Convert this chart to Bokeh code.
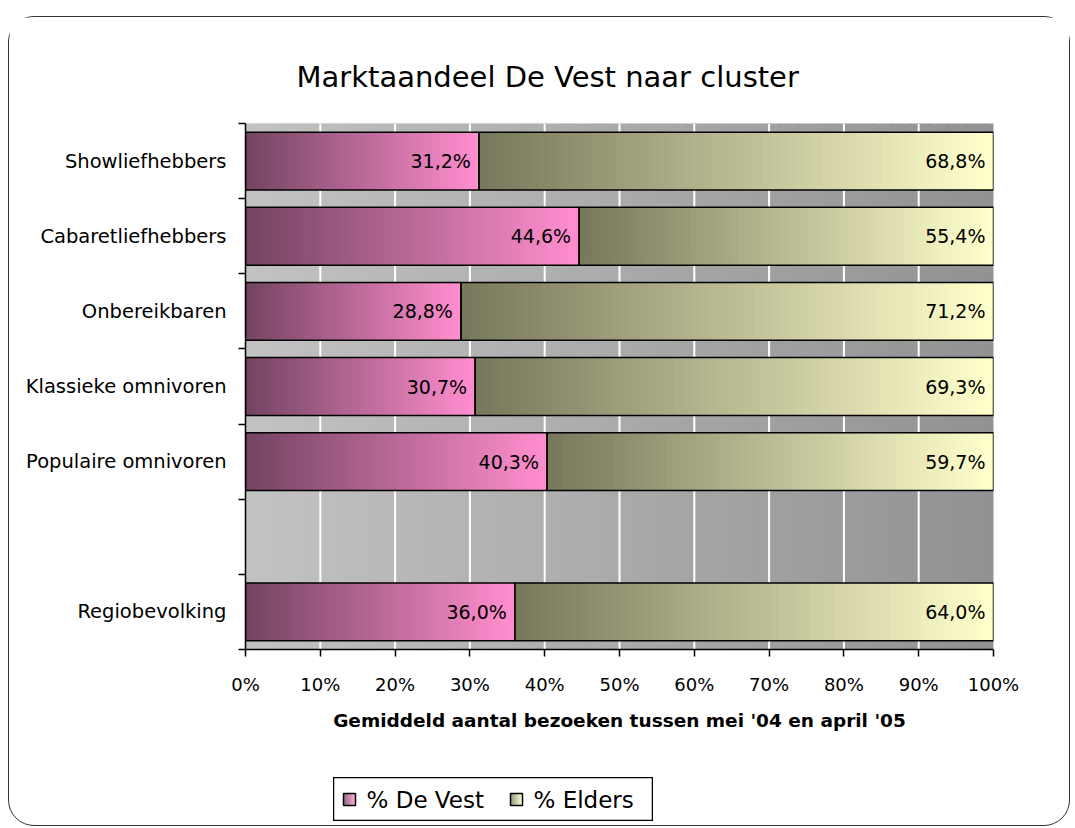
from bokeh.plotting import figure
from bokeh.layouts import column, row
from bokeh.models import Range1d, FixedTicker, Spacer
from bokeh.core.properties import value
from bokeh.embed import file_html
from bokeh.resources import INLINE

# ---- data ----
categories = ["Showliefhebbers", "Cabaretliefhebbers", "Onbereikbaren",
              "Klassieke omnivoren", "Populaire omnivoren", "", "Regiobevolking"]
de_vest = [31.2, 44.6, 28.8, 30.7, 40.3, None, 36.0]
elders = [68.8, 55.4, 71.2, 69.3, 59.7, None, 64.0]
x_ticks = [0, 10, 20, 30, 40, 50, 60, 70, 80, 90, 100]
x_tick_labels = ["0%", "10%", "20%", "30%", "40%", "50%", "60%", "70%", "80%", "90%", "100%"]
series_names = ["% De Vest", "% Elders"]
title_text = "Marktaandeel De Vest naar cluster"
x_title = "Gemiddeld aantal bezoeken tussen mei '04 en april '05"

FONT = "DejaVu Sans"
N = len(categories)
ypos = [N - 1 - i for i in range(N)]  # top to bottom

PINK = ((0x74, 0x44, 0x62), (0xFF, 0x8E, 0xCE))
OLIVE = ((0x78, 0x78, 0x5C), (0xFF, 0xFF, 0xCC))
BG = ((0xC2, 0xC2, 0xC2), (0x92, 0x92, 0x92))


def lerp(c, t):
    a, b = c
    return "#%02x%02x%02x" % tuple(int(round(a[k] + (b[k] - a[k]) * t)) for k in range(3))


def gradient_slices(x0, x1, y, cols, steps=60):
    lefts, rights, ys, colors = [], [], [], []
    for s in range(steps):
        lefts.append(x0 + (x1 - x0) * s / steps)
        rights.append(min(x1, x0 + (x1 - x0) * (s + 1) / steps + (x1 - x0) * 0.004))
        ys.append(y)
        colors.append(lerp(cols, s / (steps - 1)))
    return lefts, rights, ys, colors


p = figure(width=1060, height=745, output_backend="svg", toolbar_location=None,
           x_range=Range1d(0, 100), y_range=Range1d(-0.5, N - 0.5),
           min_border_left=236, min_border_right=76, min_border_top=106,
           min_border_bottom=113, outline_line_color=None,
           background_fill_color="#c0c0c0", border_fill_color="white")

# background gradient
bl, br, _, bc = gradient_slices(0, 100, 0, BG, steps=80)
p.quad(left=bl, right=br, bottom=[-0.5] * len(bl), top=[N - 0.5] * len(bl),
       fill_color=bc, line_color=None)

# gridlines
p.xgrid.grid_line_color = None
p.ygrid.grid_line_color = None
p.segment(x0=x_ticks[1:-1], x1=x_ticks[1:-1], y0=[-0.5] * 9, y1=[N - 0.5] * 9,
          line_color="white", line_width=2)

H = 0.77
for i, cat in enumerate(categories):
    if de_vest[i] is None:
        continue
    y = ypos[i]
    l, r, ys, c = gradient_slices(0, de_vest[i], y, PINK)
    p.hbar(y=ys, left=l, right=r, height=H, fill_color=c, line_color=None)
    l, r, ys, c = gradient_slices(de_vest[i], 100, y, OLIVE)
    p.hbar(y=ys, left=l, right=r, height=H, fill_color=c, line_color=None)

ys_valid = [ypos[i] for i in range(N) if de_vest[i] is not None]
dv_valid = [de_vest[i] for i in range(N) if de_vest[i] is not None]
el_valid = [elders[i] for i in range(N) if elders[i] is not None]
p.hbar(y=ys_valid, left=0, right=dv_valid, height=H, fill_color=None,
       line_color="black", line_width=1.5)
p.hbar(y=ys_valid, left=dv_valid, right=[d + e for d, e in zip(dv_valid, el_valid)],
       height=H, fill_color=None, line_color="black", line_width=1.5)

fmt = lambda v: ("%.1f%%" % v).replace(".", ",")
p.text(x=dv_valid, y=ys_valid, text=[fmt(v) for v in dv_valid], x_offset=-8,
       text_align="right", text_baseline="middle", text_font=value(FONT),
       text_font_size="19px", text_color="black")
p.text(x=[d + e for d, e in zip(dv_valid, el_valid)], y=ys_valid,
       text=[fmt(v) for v in el_valid], x_offset=-8,
       text_align="right", text_baseline="middle", text_font=value(FONT),
       text_font_size="19px", text_color="black")

# axes
xa = p.xaxis[0]
xa.ticker = FixedTicker(ticks=x_ticks)
xa.major_label_overrides = {t: lab for t, lab in zip(x_ticks, x_tick_labels)}
xa.major_label_text_font = FONT
xa.major_label_text_font_size = "18px"
xa.major_label_text_color = "black"
xa.major_tick_out = 7
xa.major_tick_in = 0
xa.minor_tick_line_color = None
xa.axis_line_color = "black"
xa.axis_line_width = 1.5
xa.major_tick_line_width = 1.5
xa.major_label_standoff = 17
xa.axis_label = x_title
xa.axis_label_text_font = FONT
xa.axis_label_text_font_style = "bold"
xa.axis_label_text_font_size = "18.5px"
xa.axis_label_text_color = "black"
xa.axis_label_standoff = 12

ya = p.yaxis[0]
ya.ticker = FixedTicker(ticks=ypos, minor_ticks=[v - 0.5 for v in range(N + 1)])
ya.major_label_overrides = {ypos[i]: categories[i] for i in range(N)}
ya.major_label_text_font = FONT
ya.major_label_text_font_size = "19.5px"
ya.major_label_text_color = "black"
ya.major_tick_line_color = None
ya.major_tick_out = 0
ya.minor_tick_out = 7
ya.minor_tick_in = 0
ya.minor_tick_line_color = "black"
ya.minor_tick_line_width = 1.5
ya.axis_line_color = "black"
ya.axis_line_width = 1.5
ya.major_label_standoff = 12

# title
p.title.text = title_text
p.title.text_font = FONT
p.title.text_font_size = "29px"
p.title.text_font_style = "normal"
p.title.text_color = "black"
p.title.align = "left"
p.title.vertical_align = "top"
p.title.offset = 51
p.title.standoff = 55

# ---- legend as a small figure ----
LW, LH = 320, 44
leg = figure(width=LW, height=LH, output_backend="svg", toolbar_location=None,
             x_range=Range1d(0, LW), y_range=Range1d(0, LH),
             min_border=0, outline_line_color="black", outline_line_width=1.5,
             background_fill_color="white", border_fill_color="white")
leg.axis.visible = False
leg.grid.visible = False
swatch_x = [10, 177]
text_x = [33, 200]
for sx, tx, cols, name in zip(swatch_x, text_x, [PINK, OLIVE], series_names):
    l, r, ys, c = gradient_slices(sx, sx + 12, LH / 2, cols, steps=12)
    leg.hbar(y=ys, left=l, right=r, height=12, fill_color=c, line_color=None)
    leg.hbar(y=[LH / 2], left=[sx], right=[sx + 12], height=12, fill_color=None,
             line_color="black", line_width=1.5)
    leg.text(x=[tx], y=[LH / 2], text=[name], text_baseline="middle",
             text_align="left", text_font=value(FONT), text_font_size="23px",
             text_color="black")

layout = column(p, Spacer(height=15), row(Spacer(width=324), leg), Spacer(height=4))
layout.margin = (16, 0, 0, 8)
layout.styles = {"border": "1.5px solid #333333", "border-radius": "26px",
                 "background-color": "white"}

open("out.html", "w").write(file_html(layout, INLINE))
